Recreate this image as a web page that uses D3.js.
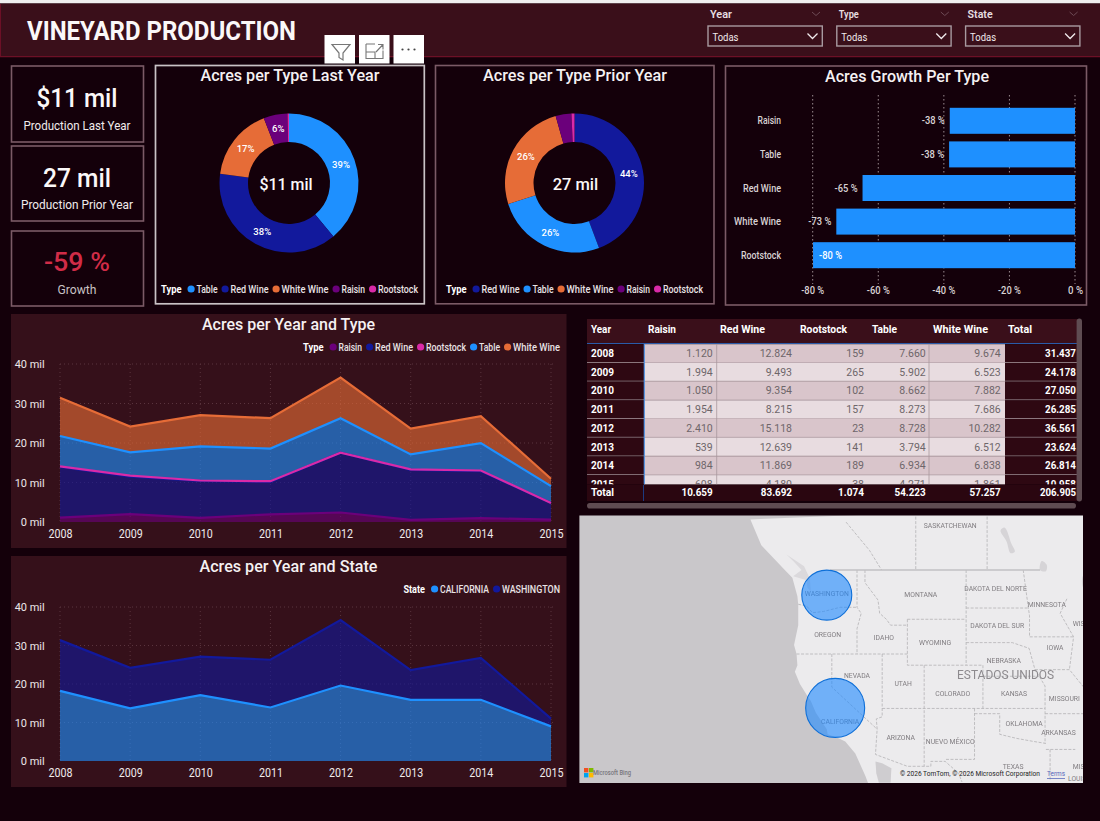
<!DOCTYPE html>
<html><head><meta charset="utf-8">
<script src="https://cdn.jsdelivr.net/npm/d3@7/dist/d3.min.js"></script>
<style>html,body{margin:0;padding:0;background:#14000a;overflow:hidden}svg{display:block;font-family:Roboto,sans-serif}</style>
</head><body><svg id="c" width="1100" height="821"></svg>
<script>
// ---------- data ----------
const years=[2008,2009,2010,2011,2012,2013,2014,2015];
const raisin=[1120,1994,1050,1954,2410,539,984,608];
const redWine=[12824,9493,9354,8215,15118,12639,11869,4180];
const rootstock=[159,265,102,157,23,141,189,38];
const table=[7660,5902,8662,8273,8728,3794,6934,4271];
const whiteWine=[9674,6523,7882,7686,10282,6512,6838,1861];
const yearTotals=[31437,24178,27050,26285,36561,23624,26814,10958];
const typeTotals=[10659,83692,1074,54223,57257];
const grandTotal=206905;
const california=[18.2,13.7,17.1,13.9,19.6,15.9,15.9,9.0];
const washington=[13.2,10.5,10.0,12.4,17.0,7.7,10.9,2.0];
const growthTypes=["Raisin","Table","Red Wine","White Wine","Rootstock"];
const growthValues=[-38.2,-38.4,-64.8,-72.8,-79.9];
const growthTicks=[-80,-60,-40,-20,0];
const areaTicks=[0,10,20,30,40];
const slicerNames=["Year","Type","State"];
const stateBubbles=[["WASHINGTON",-120.6,47.0,89],["CALIFORNIA",-119.6,37.05,124]];
const coast=[[-129.7,52.8],[-128.4,50.9],[-125.6,49],[-124.7,48.4],[-124.1,46.9],[-124,46.2],[-124,44.5],[-124.5,42.8],[-124.2,42],[-124.1,41],[-124.4,40.4],[-123.8,39.3],[-123,38.3],[-122.5,37.7],[-121.9,36.6],[-120.6,35],[-120.5,34.5],[-119.2,34.1],[-118.4,33.8],[-117.2,32.6],[-116,30.3],[-115,28]];
const salish=[[-125.4,50.2],[-123.3,49.3],[-122.6,48.3],[-122.5,47.3],[-122.9,47.6],[-123,48.2],[-124.6,48.5],[-123.6,49],[-124.6,49.7]];
const gulf=[[-114.8,31.8],[-114.7,30.6],[-114.4,29.6],[-113,29.6],[-112.9,31.1],[-114,31.6]];
const lakes=[[[-99.4,52.2],[-98.6,51],[-98.2,50.4],[-98.7,50.3],[-99.2,51.2],[-99.9,52]],[[-95,49.7],[-94.4,49.4],[-94.5,48.9],[-95.2,49]],[[-90,48.6],[-88,48.2],[-85,47.9],[-85,47],[-88,46.9],[-90,47.5]]];
const solidBorders=[[[-120.2,49],[-95.2,49]]];
const dashedBorders=[
[[-124,46.25],[-123,46.1],[-122.3,45.55],[-121,45.65],[-119.3,45.95],[-119,46],[-117,46]],
[[-117,49],[-117,46],[-116.5,45.5],[-117,44.2],[-117,42]],
[[-124.2,42],[-111,42]],[[-116.05,49],[-116.05,48],[-114.5,46.6],[-114.3,45.5],[-113.5,45],[-113,44.5],[-111,44.5]],
[[-111,45],[-111,41],[-102,41],[-102,37]],[[-111,45],[-104,45]],[[-114,42],[-114,36.2],[-114.7,36],[-114.6,35],[-114.8,32.5],[-111,31.3],[-108.2,31.3],[-108.2,31.8],[-106.5,31.8],[-104.9,30.6],[-104.5,29.7]],
[[-120,42],[-120,39],[-114.6,35]],[[-114,37],[-94.6,37]],[[-109,41],[-109,31.3]],
[[-103,37],[-103,32],[-106.5,32]],[[-103,36.5],[-100,36.5],[-100,34.5],[-98,34.1],[-96,33.8],[-94.5,33.6]],
[[-104,49],[-104,41]],[[-104,43],[-98.5,43],[-96.5,42.5],[-95.8,40.6],[-95.3,40],[-94.6,39.1],[-94.6,33.6]],
[[-102,40],[-95.3,40]],[[-104,45.94],[-96.6,45.94]],[[-97.2,49],[-96.6,46],[-96.45,45.3],[-96.45,43.5],[-91.2,43.5]],
[[-95.8,40.6],[-91.7,40.6],[-90,39]],[[-94.6,36.5],[-90,36.5]],[[-94.5,33],[-91,33]],[[-94,33],[-94,29.8]],
[[-92,46.7],[-92.8,45.5],[-91.2,43.5],[-91.7,40.6]],
[[-118.3,52.6],[-115.5,50.5],[-114.07,49]],[[-110,53],[-110,49]],[[-101.5,53],[-101.5,49]]];
const mapLabels=[["SASKATCHEWAN",-105.9,52.3],["MONTANA",-109.4,47],["DAKOTA DEL NORTE",-100.5,47.5],["MINNESOTA",-94.4,46.2],["WASHINGTON",-120.6,47.1],["OREGON",-120.5,43.7],["IDAHO",-113.8,43.4],["WYOMING",-107.7,43],["DAKOTA DEL SUR",-100.3,44.4],["IOWA",-93.4,42.5],["NEBRASKA",-99.5,41.4],["NEVADA",-117,40],["UTAH",-111.5,39.3],["COLORADO",-105.6,38.4],["KANSAS",-98.3,38.4],["MISSOURI",-92.3,37.9],["CALIFORNIA",-119,35.7],["OKLAHOMA",-97.1,35.5],["ARIZONA",-111.8,34.1],["NUEVO MÉXICO",-105.9,33.7],["ARKANSAS",-93,34.6],["TEXAS",-98.4,31.2],["MIS",-90.6,31.2],["WIS",-90.6,44.6]];
// ---------- theme ----------
const BG="#14000a",PANEL="#35101a",HEAD="#3a0f1a",CARDLINE="#7b5a66",TXT="#f2eeef";
const col={Table:"#1e90ff","Red Wine":"#12199c","White Wine":"#e66c37",Raisin:"#6b007b",Rootstock:"#d92aa8",CALIFORNIA:"#1e90ff",WASHINGTON:"#12199c"};
const textW={Table:21,"Red Wine":38,"White Wine":47,Raisin:23.5,Rootstock:40,CALIFORNIA:49,WASHINGTON:58,Type:20.5,State:21.6};
const series={Raisin:raisin,"Red Wine":redWine,Rootstock:rootstock,Table:table,"White Wine":whiteWine};
const typeKeys=Object.keys(series);
const svg=d3.select("#c");
function T(g,x,y,s,o={}){const t=g.append("text").attr("x",x).attr("y",y).attr("text-anchor",o.a||"start").attr("dominant-baseline","central").attr("font-size",o.size||10).attr("font-weight",o.w||400).attr("fill",o.fill||TXT).text(s);
 if(o.width){t.attr("textLength",o.width).attr("lengthAdjust","spacingAndGlyphs");}
 return t;}
function R(g,x0,y0,x1,y1,fill,stroke,sw){return g.append("rect").attr("x",x0).attr("y",y0).attr("width",x1-x0).attr("height",y1-y0).attr("fill",fill).attr("stroke",stroke||"none").attr("stroke-width",sw||0);}
function legend(g,title,items,x,y,align){
 const l=g.append("g");let cx=textW[title]+6;
 T(l,0,y,title,{size:10,w:700,fill:"#fff",width:textW[title]});
 items.forEach(k=>{l.append("circle").attr("cx",cx+3.6).attr("cy",y).attr("r",3.6).attr("fill",col[k]);
  T(l,cx+9,y,k,{size:10,w:500,fill:"#e9e3e5",width:textW[k]});cx+=9+textW[k]+4;});
 cx-=4;l.attr("transform",`translate(${align=="end"?x-cx:x},0)`);}
// ---------- page ----------
R(svg,0,0,1100,821,BG);
R(svg,0,0,1100,3.5,"#efefef");
R(svg,0,3.5,1100,56.5,HEAD,null);
svg.append("line").attr("x1",0).attr("x2",1100).attr("y1",56.7).attr("y2",56.7).attr("stroke","#6c1026").attr("stroke-width",1.3);
svg.append("line").attr("x1",.5).attr("x2",.5).attr("y1",4).attr("y2",56).attr("stroke","#6c1026");
T(svg,27,31,"VINEYARD PRODUCTION",{size:26,w:700,fill:"#fbf8f8",width:269});
const slicerX=d3.scalePoint().domain(slicerNames).range([708,965.6]);
slicerNames.forEach(n=>{const x=slicerX(n);
 T(svg,x+2,14.5,n,{size:11,w:600,fill:"#e7dfe1",width:n.length*(n=="Year"?5.5:5)});
 svg.append("path").attr("d",`M${x+104},12l4,3.5l4,-3.5`).attr("fill","none").attr("stroke","#6d4a55").attr("stroke-width",1);
 R(svg,x,26,x+114.3,46,"none","#a89aa0",1.4);
 T(svg,x+4.5,37,"Todas",{size:10.5,fill:"#f0eaec",width:26});
 svg.append("path").attr("d",`M${x+99.5},33.5l5,5l5,-5`).attr("fill","none").attr("stroke","#f0eaec").attr("stroke-width",1.3);
});
[324.5,359,393.5].forEach(x=>R(svg,x,35,x+30.5,63.5,"#fff"));
svg.append("path").attr("d","M332,44.5h18l-7,8.5v7l-4,-2.5v-4.5z").attr("fill","none").attr("stroke","#777").attr("stroke-width",1.2);
svg.append("path").attr("d","M366,44h9M366,44v14.5h17v-8M366,52h9v6.5M376,52l7,-7.5m-5,0h5v5").attr("fill","none").attr("stroke","#777").attr("stroke-width",1.1);
[-6,0,6].forEach(d=>svg.append("circle").attr("cx",408.5+d).attr("cy",49.5).attr("r",1.1).attr("fill","#444"));
const kpis=[[66,142,"$11 mil","Production Last Year",98,125,"#fbf8f8",81,107],[146,221,"27 mil","Production Prior Year",177.5,204.5,"#fbf8f8",68,112],[231,306,"-59 %","Growth",262,289,"#d12c47",66,39]];
kpis.forEach(k=>{R(svg,11.5,k[0],143.5,k[1],"none",CARDLINE,1.6);
 T(svg,77,k[4],k[2],{a:"middle",size:26,w:500,fill:k[6],width:k[7]});
 T(svg,77,k[5],k[3],{a:"middle",size:13,fill:k[3]=="Growth"?"#c9c2c4":"#f0ebec",width:k[8]});});
const arc=d3.arc().innerRadius(41).outerRadius(69.5);
const pieGen=d3.pie().value(d=>d.v).sort(null);
function donut(cx,cy,idx,keys,center,cdx){
 const vals=keys.map(k=>({k,v:series[k][idx]}));const tot=d3.sum(vals,d=>d.v);
 const g=svg.append("g").attr("transform",`translate(${cx},${cy})`);
 const arcs=pieGen(vals);
 g.selectAll("path").data(arcs).join("path").attr("d",arc).attr("fill",d=>col[d.data.k]);
 g.selectAll("text.p").data(arcs.filter(d=>d.data.v/tot>=.05)).join("text").attr("class","p").attr("text-anchor","middle").attr("dominant-baseline","central").attr("font-size",9.5).attr("font-weight",500).attr("fill","#fff").attr("transform",d=>`translate(${arc.centroid(d)})`).text(d=>Math.round(d.data.v/tot*100)+"%");
 T(svg,cx+cdx,cy+1.8,center,{a:"middle",size:16.5,w:500,fill:"#fbf8f8",width:center.length*7.6});
}
R(svg,155.5,65.5,424.3,303.8,"none","#c9c2c5",1.7);
T(svg,290,75,"Acres per Type Last Year",{a:"middle",size:16,w:500,fill:"#f5f1f2",width:179});
donut(289,183,7,["Table","Red Wine","White Wine","Raisin","Rootstock"],"$11 mil",-3);
legend(svg,"Type",["Table","Red Wine","White Wine","Raisin","Rootstock"],161,289,"start");
R(svg,435.5,65.5,714,303.8,"none",CARDLINE,1.6);
T(svg,575,75,"Acres per Type Prior Year",{a:"middle",size:16,w:500,fill:"#f5f1f2",width:184});
donut(574.5,183,6,["Red Wine","Table","White Wine","Raisin","Rootstock"],"27 mil",1);
legend(svg,"Type",["Red Wine","Table","White Wine","Raisin","Rootstock"],446,289,"start");
R(svg,725.5,66,1086.5,305,"none",CARDLINE,1.6);
T(svg,907,76,"Acres Growth Per Type",{a:"middle",size:16,w:500,fill:"#f5f1f2",width:164});
const gx=d3.scaleLinear().domain([-80,0]).range([812.7,1075]);
const gy=d3.scaleBand().domain(growthTypes).range([104,272]).paddingInner(.226).paddingOuter(.113);
growthTicks.forEach(t=>svg.append("line").attr("x1",gx(t)).attr("x2",gx(t)).attr("y1",95).attr("y2",284).attr("stroke","#9a8a90").attr("stroke-width",1).attr("stroke-dasharray","1.5 2.5"));
const gd=growthTypes.map((n,i)=>({n,v:growthValues[i]}));
svg.selectAll("rect.g").data(gd).join("rect").attr("class","g").attr("x",d=>gx(d.v)).attr("y",d=>gy(d.n)).attr("width",d=>gx(0)-gx(d.v)).attr("height",gy.bandwidth()).attr("fill","#1e90ff");
gd.forEach(d=>{const y=gy(d.n)+gy.bandwidth()/2;
 T(svg,781,y,d.n,{a:"end",size:10,w:500,fill:"#d9d2d4",width:textW[d.n]});
 const inside=d.v<-75;
 T(svg,inside?gx(d.v)+6:gx(d.v)-5,y,Math.round(d.v)+" %",{a:inside?"start":"end",size:10,w:500,fill:inside?"#fff":"#d9d2d4",width:23});});
growthTicks.forEach(t=>T(svg,t==0?gx(t)+.5:gx(t),290.5,t+" %",{a:"middle",size:10,w:500,fill:"#d9d2d4",width:t==0?15:23}));
const ax=d3.scalePoint().domain(years).range([60,551]);
function grid(y0,y40){const y=d3.scaleLinear().domain([0,40]).range([y0,y40]);
 const g=svg.append("g");
 areaTicks.slice(1).forEach(t=>g.append("line").attr("x1",60).attr("x2",556).attr("y1",y(t)).attr("y2",y(t)).attr("stroke","#5a343e").attr("stroke-dasharray","1 3"));
 years.forEach(t=>g.append("line").attr("x1",ax(t)).attr("x2",ax(t)).attr("y1",y(40)).attr("y2",y0).attr("stroke","#5a343e").attr("stroke-dasharray","1 3"));
 const yA=d3.axisLeft(y).tickValues(areaTicks).tickSize(0).tickFormat(d=>d+" mil");
 const ya=svg.append("g").attr("transform","translate(48,0)").call(yA);ya.select(".domain").remove();
 ya.selectAll("text").attr("font-size",11).attr("font-family","Roboto").attr("font-weight",400).attr("fill","#ece6e8").attr("x",-3.3).attr("textLength",d=>d?30:24).attr("lengthAdjust","spacingAndGlyphs");
 const xA=d3.axisBottom(ax).tickSize(0).tickFormat(d3.format("d"));
 const xa=svg.append("g").attr("transform",`translate(0,${y0+4})`).call(xA);xa.select(".domain").remove();
 xa.selectAll("text").attr("font-size",12).attr("font-family","Roboto").attr("font-weight",400).attr("fill","#f0ebec").attr("dy","0.75em").attr("textLength",24).attr("lengthAdjust","spacingAndGlyphs");
 return y;}
function stackPlot(keys,data,y){
 const layers=d3.stack().keys(keys)(data);
 const area=d3.area().x(d=>ax(d.data.year)).y0(d=>y(d[0])).y1(d=>y(d[1]));
 const line=d3.line().x(d=>ax(d.data.year)).y(d=>y(d[1]));
 svg.selectAll(null).data(layers).join("path").attr("d",area).attr("fill",d=>col[d.key]).attr("fill-opacity",.62);
 svg.selectAll(null).data(layers).join("path").attr("d",line).attr("fill","none").attr("stroke",d=>col[d.key]).attr("stroke-width",2.2);
}
R(svg,11,314,566.5,548,PANEL);
T(svg,288.5,324,"Acres per Year and Type",{a:"middle",size:16,w:500,fill:"#f5f1f2",width:173});
legend(svg,"Type",typeKeys,560,347,"end");
const y1=grid(522,364);
stackPlot(typeKeys,years.map((yr,i)=>{const o={year:yr};typeKeys.forEach(k=>o[k]=series[k][i]/1000);return o;}),y1);
R(svg,11,556,566.5,787,PANEL);
T(svg,288.5,566,"Acres per Year and State",{a:"middle",size:16,w:500,fill:"#f5f1f2",width:178});
legend(svg,"State",["CALIFORNIA","WASHINGTON"],560,589,"end");
const y2=grid(761,607);
stackPlot(["CALIFORNIA","WASHINGTON"],years.map((yr,i)=>({year:yr,CALIFORNIA:california[i],WASHINGTON:washington[i]})),y2);
const colNames=["Raisin","Red Wine","Rootstock","Table","White Wine","Total"];
const colRight=d3.scaleOrdinal().domain(colNames).range([712.7,792,864,925.7,1000.7,1076]);
const colLeft=d3.scaleOrdinal().domain(colNames).range([648,720,800,872,933,1008]);
const fmt=d3.formatLocale({decimal:",",thousands:".",grouping:[3],currency:["",""]}).format(",d");
const defs=svg.append("defs");
defs.append("clipPath").attr("id","tb").append("rect").attr("x",585).attr("y",343).attr("width",495).attr("height",141.6);
defs.append("clipPath").attr("id","mp").append("rect").attr("x",579.4).attr("y",515.5).attr("width",503.6).attr("height",267.5);
const blur=defs.append("filter").attr("id","soft");blur.append("feGaussianBlur").attr("stdDeviation",.35);
R(svg,587,319,1077,343,HEAD);
T(svg,591,329,"Year",{size:10.5,w:700,fill:"#fff",width:20});
colNames.forEach(n=>T(svg,colLeft(n),329,n,{size:10.5,w:700,fill:"#fff",width:{Raisin:28,"Red Wine":45,Rootstock:47,Table:25,"White Wine":55,Total:24}[n]}));
const ry=d3.scaleBand().domain(years).range([344.2,493.8]);
const tb=svg.append("g").attr("clip-path","url(#tb)");
years.forEach((yr,i)=>{const y=ry(yr),h=ry.bandwidth(),cy=y+h/2;
 R(tb,587,y,644,y+h-.8,"#2e0812");R(tb,1005,y,1077,y+h-.8,"#2e0812");
 R(tb,644,y,1005,y+h,i%2?"#e8dce0":"#d9c5cb");
 tb.append("line").attr("x1",587).attr("x2",1077).attr("y1",y+h-.4).attr("y2",y+h-.4).attr("stroke","#b9a6ac").attr("stroke-width",.8);
 T(tb,591,cy,yr,{size:11,w:700,fill:"#fff",width:23});
 typeKeys.forEach(k=>T(tb,colRight(k),cy,fmt(series[k][i]),{a:"end",size:10.5,fill:"#6e666a"}));
 T(tb,colRight("Total"),cy,fmt(yearTotals[i]),{a:"end",size:11,w:700,fill:"#fff",width:31});
});
[716.7,929].forEach(x=>tb.append("line").attr("x1",x).attr("x2",x).attr("y1",344).attr("y2",485).attr("stroke","#a8979d").attr("stroke-width",.8));
svg.append("line").attr("x1",587).attr("x2",1077).attr("y1",343.5).attr("y2",343.5).attr("stroke","#2a5aa8").attr("stroke-width",1.2);
svg.append("line").attr("x1",644.3).attr("x2",644.3).attr("y1",344).attr("y2",484.6).attr("stroke","#4d90e0").attr("stroke-width",1.2);
R(svg,587,484.7,1077,501,"#2a0610");
svg.append("line").attr("x1",643.5).attr("x2",643.5).attr("y1",485).attr("y2",501).attr("stroke","#1c3a80");
T(svg,591,492.5,"Total",{size:11,w:700,fill:"#fff",width:23});
colNames.forEach((n,i)=>T(svg,colRight(n),492.5,fmt(i<5?typeTotals[i]:grandTotal),{a:"end",size:11,w:700,fill:"#fff",width:n=="Total"?36:(fmt(typeTotals[i]).length*5.2)}));
svg.append("rect").attr("x",587).attr("y",503).attr("width",489).attr("height",5.6).attr("rx",2.8).attr("fill","#5f4c52");
svg.append("rect").attr("x",1076.6).attr("y",318.5).attr("width",5.4).attr("height",183).attr("rx",2.7).attr("fill","#5f4c52");
const proj=d3.geoMercator().scale(481).center([-117,49]).translate([857,570]);
const pline=d3.line().x(p=>proj(p)[0]).y(p=>proj(p)[1]);
const mp0=svg.append("g").attr("clip-path","url(#mp)");
const mp=mp0.append("g").attr("filter","url(#soft)");
R(mp,575,510,1090,790,"#c9c7ca");
const landPts=coast.concat([[-80,28],[-80,54]]);
mp.append("path").attr("d",pline(landPts)+"Z").attr("fill","#ecebed");
mp.append("path").attr("d",pline(salish)+"Z").attr("fill","#dbd9dc");
mp.append("path").attr("d",pline(gulf)+"Z").attr("fill","#cfcdd0");
lakes.forEach(p=>mp.append("path").attr("d",d3.line().curve(d3.curveCatmullRomClosed).x(q=>proj(q)[0]).y(q=>proj(q)[1])(p)).attr("fill","#d6d4d7"));
dashedBorders.forEach(p=>mp.append("path").attr("d",pline(p)).attr("fill","none").attr("stroke","#b4b2b5").attr("stroke-width",.8).attr("stroke-dasharray","3 1.5"));
solidBorders.forEach(p=>mp.append("path").attr("d",pline(p)).attr("fill","none").attr("stroke","#c2c0c3").attr("stroke-width",1.3));
mapLabels.forEach(l=>{const [x,y]=proj([l[1],l[2]]);T(mp,x,y,l[0],{a:"middle",size:6.8,fill:"#807d81"});});
{const [x,y]=proj([-99.3,40.1]);T(mp,x,y,"ESTADOS UNIDOS",{a:"middle",size:12,fill:"#8d8a8e",width:97});}
const rs=d3.scaleSqrt().domain([0,124]).range([0,29.5]);
mp.selectAll("circle").data(stateBubbles).join("circle").attr("cx",d=>proj([d[1],d[2]])[0]).attr("cy",d=>proj([d[1],d[2]])[1]).attr("r",d=>rs(d[3])).attr("fill","#1e88ff").attr("fill-opacity",.6).attr("stroke","#0f6fd8").attr("stroke-width",1.1);
[["#f25022",0,0],["#7fba00",5,0],["#00a4ef",0,5],["#ffb900",5,5]].forEach(c=>R(mp0,584+c[1],768+c[2],588.4+c[1],772.4+c[2],c[0]));
T(mp0,593,773,"Microsoft Bing",{size:6.5,w:500,fill:"#77757a",width:38});
T(mp0,900,773.5,"© 2026 TomTom, © 2026 Microsoft Corporation",{size:7.5,fill:"#222",width:140});
T(mp0,1047,773.5,"Terms",{size:7.5,fill:"#5566bb",width:18}).attr("text-decoration","underline");
T(mp0,1068,779,"LOUISIANA",{size:6.8,fill:"#807d81"});
</script></body></html>
